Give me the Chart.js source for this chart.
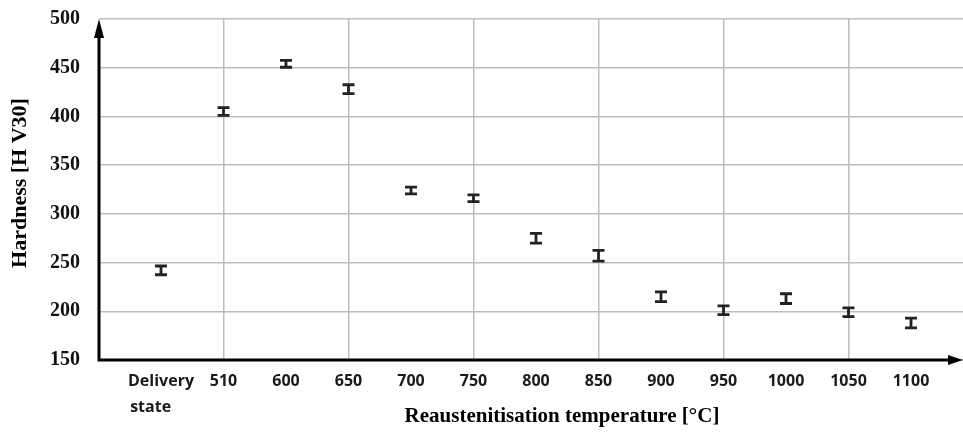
<!DOCTYPE html>
<html>
<head>
<meta charset="utf-8">
<title>Hardness vs reaustenitisation temperature</title>
<script src="https://cdn.jsdelivr.net/npm/chart.js@4.4.1/dist/chart.umd.min.js"></script>
<style>
  html, body { margin: 0; padding: 0; background: #fff; }
  #wrap { width: 963px; height: 434px; }
</style>
</head>
<body>
<div id="wrap"><canvas id="hardnessChart"></canvas></div>
<script>
const temperatures = ["Delivery state", "510", "600", "650", "700", "750", "800", "850", "900", "950", "1000", "1050", "1100"];
const hardness = [242, 405, 454, 428, 324, 316, 275, 257, 215, 201, 213, 199, 188];
const hardnessError = [4.5, 4, 3.5, 4.5, 3.5, 3.5, 5, 5.5, 5, 4.5, 5, 4.5, 5];
const yMin = 150;
const yMax = 500;
const yStep = 50;

const points = hardness.map((v, i) => ({ x: i, y: v }));

// axes with arrows, error bars and titles
const extras = {
  id: "extras",
  afterDatasetsDraw(chart) {
    const ctx = chart.ctx;
    const xs = chart.scales.x;
    const ys = chart.scales.y;
    const area = chart.chartArea;

    ctx.save();
    ctx.strokeStyle = "#222";
    ctx.lineWidth = 2.8;
    for (let i = 0; i < hardness.length; i++) {
      const px = xs.getPixelForValue(i);
      const top = ys.getPixelForValue(hardness[i] + hardnessError[i]);
      const bot = ys.getPixelForValue(hardness[i] - hardnessError[i]);
      ctx.beginPath();
      ctx.moveTo(px, top);
      ctx.lineTo(px, bot);
      ctx.moveTo(px - 6, top);
      ctx.lineTo(px + 6, top);
      ctx.moveTo(px - 6, bot);
      ctx.lineTo(px + 6, bot);
      ctx.stroke();
    }

    // axis lines
    ctx.strokeStyle = "#000";
    ctx.fillStyle = "#000";
    ctx.lineWidth = 3;
    ctx.beginPath();
    ctx.moveTo(area.left, area.bottom);
    ctx.lineTo(area.left, area.top + 14);
    ctx.moveTo(area.left - 1.5, area.bottom);
    ctx.lineTo(area.right - 12, area.bottom);
    ctx.stroke();
    ctx.beginPath();
    ctx.moveTo(area.left, area.top);
    ctx.lineTo(area.left - 5, area.top + 19);
    ctx.lineTo(area.left + 5, area.top + 19);
    ctx.closePath();
    ctx.fill();
    ctx.beginPath();
    ctx.moveTo(area.right, area.bottom);
    ctx.lineTo(area.right - 15, area.bottom - 5);
    ctx.lineTo(area.right - 15, area.bottom + 5);
    ctx.closePath();
    ctx.fill();

    // titles
    ctx.textAlign = "center";
    ctx.textBaseline = "middle";
    ctx.font = "bold 21px 'Liberation Serif', 'Times New Roman', serif";
    ctx.fillText("Reaustenitisation temperature [°C]", (area.left + area.right) / 2 + 31, 417);
    ctx.font = "bold 22px 'Liberation Serif', 'Times New Roman', serif";
    ctx.translate(20, 183);
    ctx.rotate(-Math.PI / 2);
    ctx.fillText("Hardness [H V30]", 0, 0);
    ctx.restore();
  },
};

new Chart(document.getElementById("hardnessChart"), {
  type: "scatter",
  data: {
    datasets: [
      {
        label: "Hardness",
        data: points,
        pointRadius: 0,
        showLine: false,
      },
    ],
  },
  options: {
    responsive: true,
    maintainAspectRatio: false,
    animation: false,
    layout: { padding: { top: 19, left: 0, right: 0, bottom: 0 } },
    plugins: {
      legend: { display: false },
      tooltip: { enabled: false },
    },
    scales: {
      x: {
        type: "linear",
        min: -0.992,
        max: 12.832,
        afterBuildTicks: (scale) => {
          scale.ticks = temperatures.map((t, i) => ({ value: i }));
        },
        afterFit: (scale) => {
          scale.height = 74;
          scale.paddingLeft = 0;
          scale.paddingRight = 0;
        },
        ticks: {
          autoSkip: false,
          maxRotation: 0,
          padding: 9,
          color: "#1a1a1a",
          font: { family: "'Open Sans', sans-serif", size: 16, weight: "bold", lineHeight: 1.6 },
          callback: (value) => {
            const t = temperatures[value];
            if (t === "Delivery state") return ["Delivery", "state     "];
            return t;
          },
        },
        grid: {
          drawTicks: false,
          lineWidth: 1.5,
          color: (c) => (c.tick && c.tick.value % 2 === 1 ? "#bdbdbd" : "rgba(0,0,0,0)"),
        },
        border: { display: false },
      },
      y: {
        min: yMin,
        max: yMax,
        afterFit: (scale) => {
          scale.width = 99;
          scale.paddingTop = 0;
          scale.paddingBottom = 0;
        },
        ticks: {
          stepSize: yStep,
          padding: 19,
          color: "#111",
          font: { family: "'Liberation Serif', serif", size: 20, weight: "bold" },
        },
        grid: {
          drawTicks: false,
          lineWidth: 1.5,
          color: "#bdbdbd",
        },
        border: { display: false },
      },
    },
  },
  plugins: [extras],
});
</script>
</body>
</html>
